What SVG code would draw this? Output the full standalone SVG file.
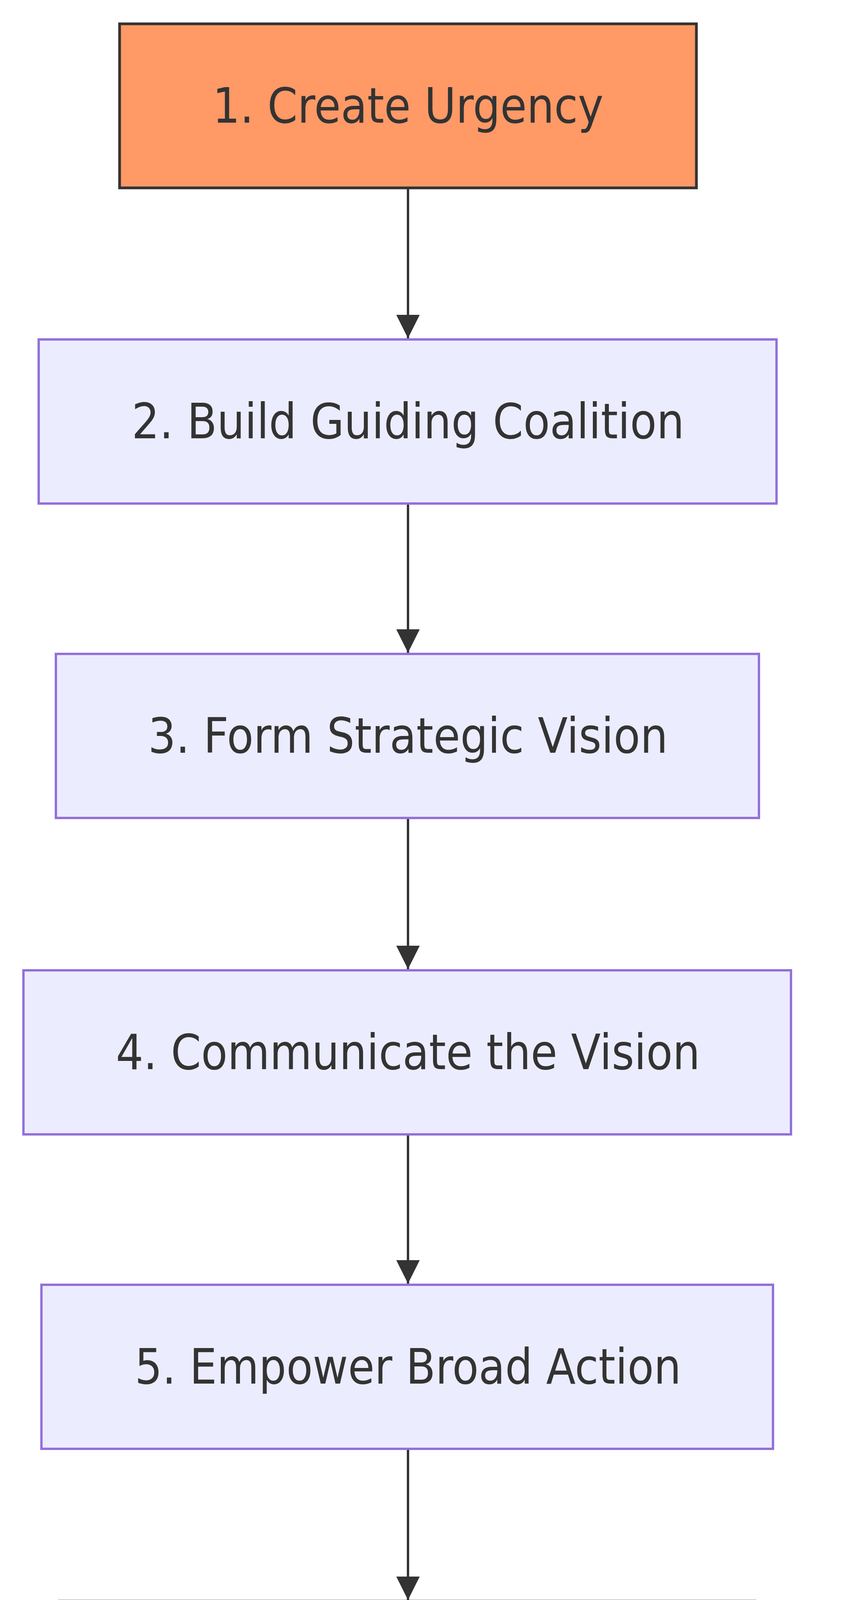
<svg xmlns="http://www.w3.org/2000/svg" width="2152" height="7216" viewBox="0 0 2152 7216">
<style>
.n rect{fill:#ECECFF;stroke:#9370DB;stroke-width:6}
.o rect{fill:#FF9966;stroke:#333;stroke-width:7}
.g rect{fill:#66FF99;stroke:#333;stroke-width:7}
.b rect{fill:#6699FF;stroke:#333;stroke-width:7}
text{font-family:"DejaVu Sans Condensed","DejaVu Sans","Liberation Sans",sans-serif;font-size:124px;fill:#333;text-anchor:middle;dominant-baseline:central}
.e line{stroke:#333;stroke-width:6}
</style>
<defs><marker id="a" markerUnits="userSpaceOnUse" markerWidth="64" markerHeight="64" refX="60" refY="30" orient="auto" viewBox="0 0 64 60"><path d="M0,0L60,30L0,60Z" fill="#333"/></marker></defs>
<g class="e">
<line x1="1044" y1="480" x2="1044" y2="866" marker-end="url(#a)"/>
<line x1="1044" y1="1289" x2="1044" y2="1671" marker-end="url(#a)"/>
<line x1="1044" y1="2094" x2="1044" y2="2481" marker-end="url(#a)"/>
<line x1="1044" y1="2904" x2="1044" y2="3286" marker-end="url(#a)"/>
<line x1="1044" y1="3709" x2="1044" y2="4096" marker-end="url(#a)"/>
<line x1="1044" y1="4519" x2="1044" y2="4905" marker-end="url(#a)"/>
<line x1="1044" y1="5328" x2="1044" y2="5710" marker-end="url(#a)"/>
<line x1="1044" y1="6133" x2="1044" y2="6520" marker-end="url(#a)"/>
</g>
<g id="n1" class="o"><rect x="306" y="61" width="1476" height="420"/><text x="1044" y="271" textLength="1000" lengthAdjust="spacingAndGlyphs">1. Create Urgency</text></g>
<g id="n2" class="n"><rect x="99" y="869" width="1888" height="420"/><text x="1044" y="1079" textLength="1414" lengthAdjust="spacingAndGlyphs">2. Build Guiding Coalition</text></g>
<g id="n3" class="n"><rect x="143" y="1674" width="1799" height="420"/><text x="1044" y="1884" textLength="1330" lengthAdjust="spacingAndGlyphs">3. Form Strategic Vision</text></g>
<g id="n4" class="n"><rect x="60" y="2484" width="1964" height="420"/><text x="1044" y="2694" textLength="1495" lengthAdjust="spacingAndGlyphs">4. Communicate the Vision</text></g>
<g id="n5" class="n"><rect x="106" y="3289" width="1872" height="420"/><text x="1044" y="3499" textLength="1398" lengthAdjust="spacingAndGlyphs">5. Empower Broad Action</text></g>
<g id="n6" class="g"><rect x="152" y="4099" width="1780" height="420"/><text x="1044" y="4309" textLength="1306" lengthAdjust="spacingAndGlyphs">6. Generate Quick Wins</text></g>
<g id="n7" class="n"><rect x="239" y="4908" width="1606" height="420"/><text x="1044" y="5118" textLength="1136" lengthAdjust="spacingAndGlyphs">7. Consolidate Gains</text></g>
<g id="n8" class="b"><rect x="251" y="5713" width="1585" height="420"/><text x="1044" y="5923" textLength="1109" lengthAdjust="spacingAndGlyphs">8. Anchor in Culture</text></g>
<g id="n9" class="n"><rect x="106" y="6523" width="1876" height="420"/><text x="1044" y="6733" textLength="1406" lengthAdjust="spacingAndGlyphs">Transformation Sustained</text></g>
</svg>
